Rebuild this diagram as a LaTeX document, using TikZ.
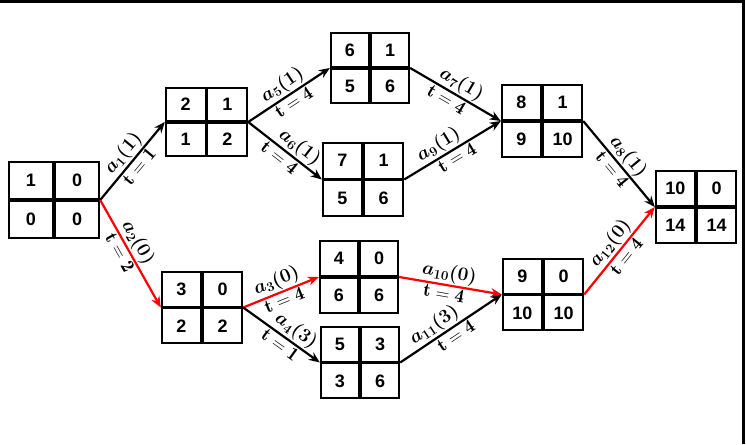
\RequirePackage{fix-cm}
\documentclass[tikz,border=0pt]{standalone}
\usepackage{fontspec}
\usepackage{bm}
\newfontfamily\numfont{Liberation Sans}
\usetikzlibrary{arrows.meta,calc}
\tikzset{
  evb/.style={draw, line width=2.4pt, rectangle, inner sep=0pt},
  divl/.style={line width=3.2pt},
  num/.style={font=\numfont\bfseries\fontsize{18}{20}\selectfont, inner sep=0pt},
  arr/.style={line width=2.2pt, -{Stealth[length=11pt,width=9pt]}},
  crit/.style={arr, draw=red},
  lab/.style={font=\fontsize{19}{22}\selectfont, sloped, inner sep=1.2pt, text=black},
  frame/.style={line width=3pt},
}
\newcommand{\evbox}[8]{%
  \node[evb, minimum width=#3pt, minimum height=#4pt] (#1) at (#2) {};
  \draw[divl] (#1.north) -- (#1.south);
  \draw[divl] (#1.west) -- (#1.east);
  \node[num] (#1-a) at ($(#1.center)!0.5!(#1.north west)$) {#5};
  \node[num] (#1-b) at ($(#1.center)!0.5!(#1.north east)$) {#6};
  \node[num] (#1-c) at ($(#1.center)!0.5!(#1.south west)$) {#7};
  \node[num] (#1-d) at ($(#1.center)!0.5!(#1.south east)$) {#8};
}
\begin{document}
\begin{tikzpicture}[x=1pt,y=-1pt]
\useasboundingbox (0,0) rectangle (746,444);
\fill[white] (0,0) rectangle (746,444);
\draw[frame] (0,2) -- (743,2) -- (743,444);

\evbox{v1}{54,200}{90}{76}{1}{0}{0}{0}
\evbox{v2}{206.5,122}{81}{68}{2}{1}{1}{2}
\evbox{v6}{370,68}{78}{70}{6}{1}{5}{6}
\evbox{v7}{363,179.5}{80}{73}{7}{1}{5}{6}
\evbox{v8}{542,121}{80}{72}{8}{1}{9}{10}
\evbox{v10}{696,207}{80}{72}{10}{0}{14}{14}
\evbox{v3}{202,307.5}{80}{71}{3}{0}{2}{2}
\evbox{v4}{359,277}{78}{72}{4}{0}{6}{6}
\evbox{v5}{360,362.5}{78}{71}{5}{3}{3}{6}
\evbox{v9}{543,294.5}{80}{71}{9}{0}{10}{10}

\draw[arr] (v1.east) -- node[lab, above]{$\bm{a_{1}(1)}$} node[lab, below]{$\mathbf{t=1}$} (v2.west);
\draw[crit] (v1.east) -- node[lab, above, pos=0.45]{$\bm{a_{2}(0)}$} node[lab, below, pos=0.45]{$\mathbf{t=2}$} (v3.west);
\draw[crit] (v3.east) -- node[lab, above]{$\bm{a_{3}(0)}$} node[lab, below]{$\mathbf{t=4}$} (v4.west);
\draw[arr] (v3.east) -- node[lab, above, pos=0.6]{$\bm{a_{4}(3)}$} node[lab, below, pos=0.55]{$\mathbf{t=1}$} (v5.west);
\draw[arr] (v2.east) -- node[lab, above]{$\bm{a_{5}(1)}$} node[lab, below]{$\mathbf{t=4}$} (v6.west);
\draw[arr] (v2.east) -- node[lab, above, pos=0.6]{$\bm{a_{6}(1)}$} node[lab, below, pos=0.5]{$\mathbf{t=4}$} (v7.west);
\draw[arr] (v6.east) -- node[lab, above]{$\bm{a_{7}(1)}$} node[lab, below, pos=0.45]{$\mathbf{t=4}$} (v8.west);
\draw[arr] (v8.east) -- node[lab, above]{$\bm{a_{8}(1)}$} node[lab, below]{$\mathbf{t=4}$} (v10.west);
\draw[arr] (v7.east) -- node[lab, above, pos=0.42]{$\bm{a_{9}(1)}$} node[lab, below]{$\mathbf{t=4}$} (v8.west);
\draw[crit] (v4.east) -- node[lab, above, pos=0.47]{$\bm{a_{10}(0)}$} node[lab, below, pos=0.45]{$\mathbf{t=4}$} (v9.west);
\draw[arr] (v5.east) -- node[lab, above, pos=0.4]{$\bm{a_{11}(3)}$} node[lab, below, pos=0.5]{$\mathbf{t=4}$} (v9.west);
\draw[crit] (v9.east) -- node[lab, above]{$\bm{a_{12}(0)}$} node[lab, below]{$\mathbf{t=4}$} (v10.west);
\end{tikzpicture}
\end{document}
